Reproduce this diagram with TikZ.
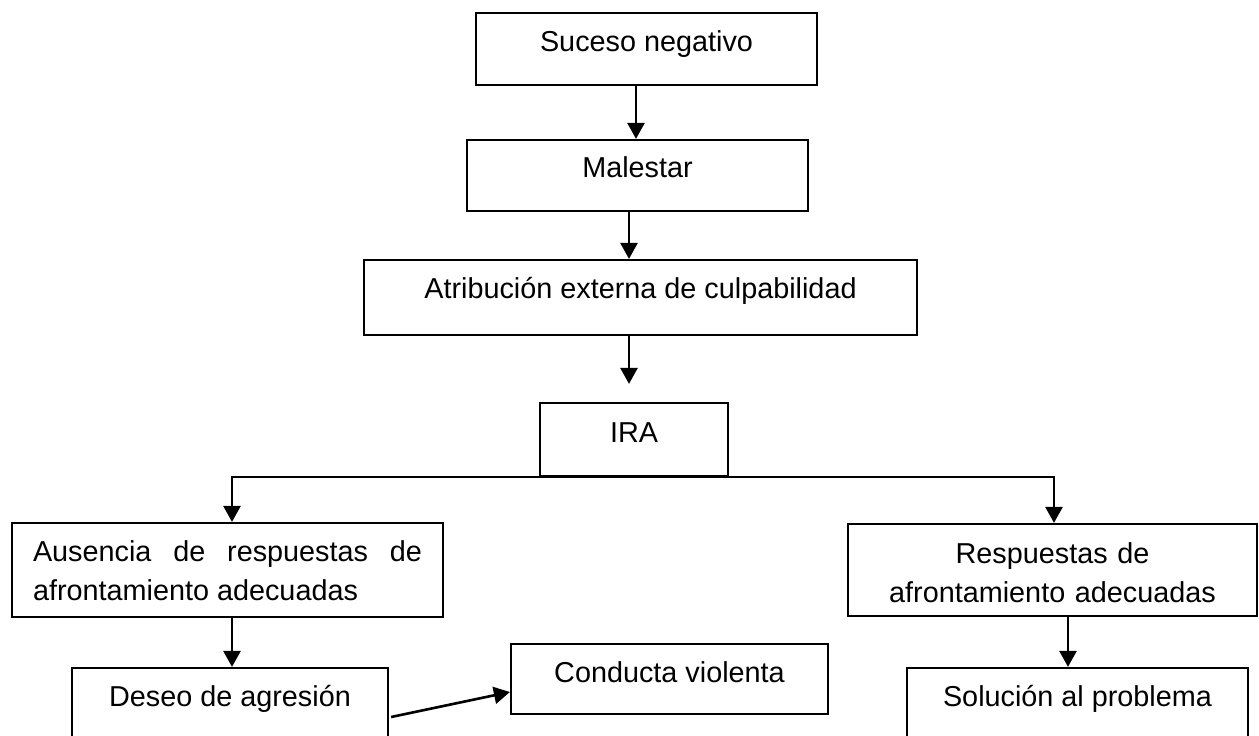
\documentclass[tikz,border=0pt]{standalone}
\usepackage{fontspec}
\setmainfont{Liberation Sans}
\usetikzlibrary{arrows.meta}
\begin{document}
\begin{tikzpicture}[x=1pt,y=-1pt,
  box/.style={draw=black, line width=2.2pt, rectangle, inner xsep=0pt, inner ysep=0pt,
    anchor=base, font=\fontsize{28.8}{39}\selectfont},
  arr/.style={line width=2.6pt, -{Triangle[length=16pt,width=17pt]}},
]
\useasboundingbox (0,0) rectangle (1259,736);
\clip (0,0) rectangle (1259,736);
\node[box, minimum width=341pt, text height=38pt, text depth=34pt] (b1) at (646.5,51) {Suceso negativo};
\node[box, minimum width=341pt, text height=37pt, text depth=34pt] (b2) at (637.5,177) {Malestar};
\node[box, minimum width=553pt, text height=38pt, text depth=37pt] (b3) at (640.5,298) {Atribución externa de culpabilidad};
\node[box, minimum width=188pt, text height=39pt, text depth=34pt] (ira) at (634,442) {IRA};
\node[box, text width=389pt, inner xsep=21pt, align=justify, text height=38pt, text depth=56pt] (b5) at (227.5,561)
  {\hyphenpenalty=10000 Ausencia de respuestas de\linebreak afrontamiento adecuadas};
\node[box, text width=389pt, inner xsep=10pt, align=center, text height=39pt, text depth=53pt] (b6) at (1052.5,563)
  {Respuestas de\\afrontamiento adecuadas};
\node[box, minimum width=316pt, text height=38pt, text depth=50pt] (b7) at (230,706) {Deseo de agresión};
\node[box, minimum width=317pt, text height=38pt, text depth=32pt] (b8) at (669.5,682) {Conducta violenta};
\node[box, minimum width=341pt, text height=38pt, text depth=50pt] (b9) at (1077.5,706) {Solución al problema};

\draw[arr] ([xshift=-10.5pt]b1.south) -- ([xshift=-1.5pt]b2.north);
\draw[arr] ([xshift=-8.5pt]b2.south) -- ([xshift=-11.5pt]b3.north);
\draw[arr] ([xshift=-11.5pt]b3.south) -- ([xshift=-5pt,yshift=18pt]ira.north);
\draw[arr] (ira.south) -| ([xshift=4.5pt]b5.north);
\draw[arr] (ira.south) -| ([xshift=1.5pt]b6.north);
\draw[arr] ([xshift=4.5pt]b5.south) -- ([xshift=2pt]b7.north);
\draw[arr] ([xshift=15.5pt]b6.south) -- ([xshift=-9.5pt]b9.north);
\draw[arr] ([shift={(2pt,-11pt)}]b7.base east) -- ([yshift=-10pt]b8.base west);
\end{tikzpicture}
\end{document}
